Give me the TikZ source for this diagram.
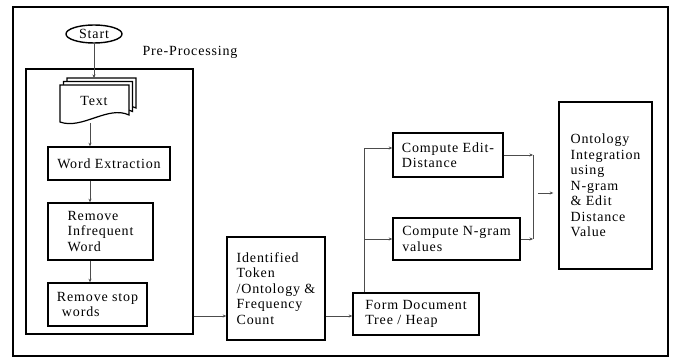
\documentclass[tikz,border=0pt]{standalone}
\usepackage{fontspec}
\setmainfont[LetterSpace=6]{Liberation Serif}
\usetikzlibrary{shapes.geometric,arrows.meta}
\begin{document}
\begin{tikzpicture}[x=1pt,y=-1pt,
  every node/.style={font=\fontsize{14}{15.5}\selectfont},
  box/.style={draw, line width=1.4pt, align=left, inner sep=0pt},
  link/.style={draw=black!70, line width=0.7pt},
  flow/.style={link, -{Stealth[length=3.5pt,width=3pt]}},
  sheet/.style={draw, line width=1.2pt, fill=white},
]
\useasboundingbox (0,0) rectangle (673,358);
\fill[white] (0,0) rectangle (673,358);
\draw[line width=1.2pt] (13,7) rectangle (668,356);

% start terminal and pre-processing group
\node[draw, ellipse, line width=1.4pt, inner sep=0pt, minimum width=56, minimum height=18] (start) at (94,34) {Start};
\node (prelabel) at (190,52) {Pre-Processing};
\node[box, minimum width=167, minimum height=265] (pre) at (109.5,201.5) {};

% stacked text documents
\foreach \d in {7,3.5,0}
  \draw[sheet, shift={(\d,-\d)}] (60,85) -- (129,85) -- (129,115)
    .. controls (108,105) and (82,130) .. (60,122) -- cycle;
\node (doc) at (94,101) {Text};
\coordinate (doctop) at (94,78);
\coordinate (docbot) at (90,123);

% pre-processing steps
\node[box, minimum width=122, minimum height=33] (wordx) at (109,163.5) {Word Extraction};
\node[box, minimum width=105, minimum height=57] (infreq) at (100.5,231.5) {Remove\\Infrequent\\Word};
\node[box, minimum width=99, minimum height=43] (stop) at (97.5,304.5) {Remove stop\\\hspace*{5pt}words};

% later stages
\node[box, minimum width=98, minimum height=103] (ident) at (276,288.5) {Identified\\Token\\/Ontology \&\\Frequency\\Count};
\node[box, minimum width=126, minimum height=42] (form) at (416,314) {Form Document\\Tree / Heap};
\node[box, minimum width=110, minimum height=44] (edit) at (448,155) {Compute Edit-\\Distance};
\node[box, minimum width=127, minimum height=42] (ngram) at (456.5,239) {Compute N-gram\\values};
\node[box, minimum width=93, minimum height=167] (onto) at (605.5,185.5) {Ontology\\Integration\\using\\N-gram\\\& Edit\\Distance\\Value};

% connectors
\draw[flow] (start.south) -- (doctop);
\draw[flow] (docbot) -- (docbot |- wordx.north);
\draw[flow] (docbot |- wordx.south) -- (docbot |- infreq.north);
\draw[flow] (docbot |- infreq.south) -- (docbot |- stop.north);

\coordinate (row) at (0,316);
\draw[flow] (pre.east |- row) -- (ident.west |- row);
\draw[flow] (ident.east |- row) -- (form.west |- row);

\coordinate (fork) at (364,148);
\draw[link] (form.north west -| fork) -- (fork);
\draw[flow] (fork) -- (fork -| edit.west);
\draw[flow] (fork |- ngram.west) -- (ngram.west);

\coordinate (jt) at (533,155);
\coordinate (jb) at (533,239);
\coordinate (jm) at (538,193);
\draw[flow] (edit.east) -- (jt);
\draw[flow] (ngram.east) -- (jb);
\draw[link] (jt) -- (jb);
\draw[flow, shorten >=5pt] (jm) -- (jm -| onto.west);
\end{tikzpicture}
\end{document}
